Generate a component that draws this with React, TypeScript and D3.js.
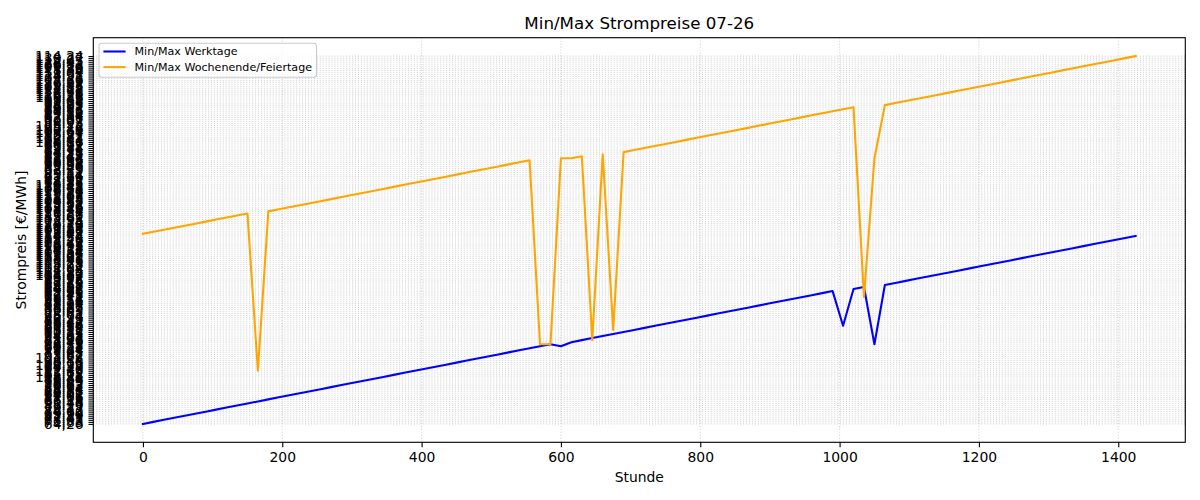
import React, { useEffect, useRef } from "react";
import * as d3 from "d3";

const hours: number[] = [
  0, 15, 30, 45, 60, 75, 90, 105, 120, 135, 150, 165, 180, 195, 210, 225, 240, 255, 270, 285,
  300, 315, 330, 345, 360, 375, 390, 405, 420, 435, 450, 465, 480, 495, 510, 525, 540, 555, 570, 585,
  600, 615, 630, 645, 660, 675, 690, 705, 720, 735, 750, 765, 780, 795, 810, 825, 840, 855, 870, 885,
  900, 915, 930, 945, 960, 975, 990, 1005, 1020, 1035, 1050, 1065, 1080, 1095, 1110, 1125, 1140, 1155, 1170, 1185,
  1200, 1215, 1230, 1245, 1260, 1275, 1290, 1305, 1320, 1335, 1350, 1365, 1380, 1395, 1410, 1425,
];

const werktage: string[] = [
  "64,26", "71,83", "68,05", "77,41", "82,19", "69,94", "74,60", "88,12", "79,37", "85,29",
  "91,48", "66,73", "73,15", "87,66", "94,02", "80,51", "76,88", "83,94", "89,27", "70,63",
  "92,85", "78,09", "86,44", "103,71", "95,18", "81,62", "112,35", "97,40", "84,77", "108,93",
  "90,16", "98,54", "101,28", "93,67", "75,32", "87,05", "79,84", "92,21", "84,58", "96,73",
  "84,58", "72,49", "88,96", "81,07", "94,63", "77,25", "90,81", "85,12", "97,58", "80,34",
  "93,86", "76,47", "89,19", "82,93", "95,74", "78,61", "91,03", "86,39", "98,82", "73,97",
  "88,24", "83,56", "96,18", "79,72", "92,45", "87,91", "99,36", "80,34", "84,05", "94,27",
  "96,73", "89,68", "97,13", "82,76", "93,52", "98,07", "104,39", "111,82", "107,15", "118,64",
  "102,97", "115,28", "109,73", "121,46", "105,61", "113,09", "119,87", "101,54", "124,32", "110,18",
  "116,95", "106,43", "122,71", "108,26", "127,58", "114,24",
];

const wochenende: string[] = [
  "118,42", "125,07", "109,86", "131,53", "120,19", "114,78", "128,34", "103,95", "135,61", "117,23",
  "126,88", "112,35", "121,74", "108,49", "133,16", "115,92", "129,57", "104,83", "123,38", "138,05",
  "111,67", "119,29", "127,94", "106,71", "132,48", "116,13", "94,85", "88,57", "97,92", "91,36",
  "85,84", "99,11", "93,29", "87,43", "95,96", "90,58", "98,69", "86,93", "96,73", "96,73",
  "92,64", "92,64", "89,47", "88,96", "97,25", "85,12", "94,38", "83,71", "99,84", "91,92",
  "86,17", "104,56", "96,41", "102,33", "110,87", "95,27", "107,64", "100,49", "93,78", "105,12",
  "98,23", "90,07", "97,61", "92,98", "87,34", "99,52", "94,16", "89,83", "96,07", "79,72",
  "92,64", "98,95", "93,13", "99,68", "95,49", "119,53", "126,21", "112,96", "134,72", "121,18",
  "108,85", "129,43", "116,37", "137,69", "103,28", "124,91", "113,57", "131,04", "118,76", "127,39",
  "109,14", "136,82", "122,45", "115,63", "130,27", "114,34",
];

const seriesNames = ["Min/Max Werktage", "Min/Max Wochenende/Feiertage"];
const seriesColors = ["#0000ff", "#ffa500"];
const xTicks = [0, 200, 400, 600, 800, 1000, 1200, 1400];
const title = "Min/Max Strompreise 07-26";
const xLabel = "Stunde";
const yLabel = "Strompreis [€/MWh]";

const W = 1200;
const H = 500;
const L = 93.3;
const R = 1185.3;
const T = 37.7;
const B = 442.3;
const FONT = "DejaVu Sans, sans-serif";

export default function App() {
  const ref = useRef<SVGSVGElement | null>(null);

  useEffect(() => {
    document.body.style.margin = "0";
    const svg = d3.select(ref.current);
    svg.selectAll("*").remove();

    // categorical mapping in order of first appearance
    const cats: string[] = [];
    const idx = new Map<string, number>();
    const all = [werktage, wochenende];
    all.forEach((s) =>
      s.forEach((v) => {
        if (!idx.has(v)) {
          idx.set(v, cats.length);
          cats.push(v);
        }
      })
    );
    const n = cats.length;
    const xMin = d3.min(hours)!;
    const xMax = d3.max(hours)!;
    const xPad = (xMax - xMin) * 0.05;
    const yPad = (n - 1) * 0.05;

    const x = d3.scaleLinear().domain([xMin - xPad, xMax + xPad]).range([L, R]);
    const y = d3.scaleLinear().domain([-yPad, n - 1 + yPad]).range([B, T]);

    svg.append("rect").attr("width", W).attr("height", H).attr("fill", "white");

    // grid
    const grid = svg.append("g").attr("stroke", "#b0b0b0").attr("stroke-opacity", 0.5)
      .attr("stroke-width", 1.11).attr("stroke-dasharray", "1.11,1.83");
    grid.selectAll("line.h").data(d3.range(n)).join("line")
      .attr("class", "h")
      .attr("x1", L).attr("x2", R)
      .attr("y1", (d) => y(d)).attr("y2", (d) => y(d));
    grid.selectAll("line.v").data(xTicks).join("line")
      .attr("class", "v")
      .attr("x1", (d) => x(d)).attr("x2", (d) => x(d))
      .attr("y1", T).attr("y2", B);

    // lines
    const line = d3.line<string>()
      .x((_, i) => x(hours[i]))
      .y((d) => y(idx.get(d)!));
    all.forEach((s, k) => {
      svg.append("path").datum(s).attr("d", line)
        .attr("fill", "none").attr("stroke", seriesColors[k])
        .attr("stroke-width", 2.08).attr("stroke-linejoin", "round").attr("stroke-linecap", "square");
    });

    // axes
    const xAxis = d3.axisBottom(x).tickValues(xTicks).tickFormat(d3.format("d"))
      .tickSize(4.86).tickPadding(4.86).tickSizeOuter(0);
    const gx = svg.append("g").attr("transform", `translate(0,${B})`).call(xAxis);
    gx.select(".domain").remove();
    gx.selectAll("line").attr("stroke-width", 1.11).attr("stroke", "black");
    gx.selectAll("text").attr("font-family", FONT).attr("font-size", 13.9).attr("fill", "black");

    const yAxis = d3.axisLeft(y).tickValues(d3.range(n)).tickFormat((d) => cats[d as number])
      .tickSize(4.86).tickPadding(4.86).tickSizeOuter(0);
    const gy = svg.append("g").attr("transform", `translate(${L},0)`).call(yAxis);
    gy.select(".domain").remove();
    gy.selectAll("line").attr("stroke-width", 1.11).attr("stroke", "black");
    gy.selectAll("text").attr("font-family", FONT).attr("font-size", 13.9).attr("fill", "black");

    // spines
    svg.append("rect").attr("x", L).attr("y", T).attr("width", R - L).attr("height", B - T)
      .attr("fill", "none").attr("stroke", "black").attr("stroke-width", 1.11);

    // labels
    svg.append("text").attr("x", (L + R) / 2).attr("y", 29.2).attr("text-anchor", "middle")
      .attr("font-family", FONT).attr("font-size", 16.7).text(title);
    svg.append("text").attr("x", (L + R) / 2).attr("y", 481.5).attr("text-anchor", "middle")
      .attr("font-family", FONT).attr("font-size", 13.9).text(xLabel);
    svg.append("text").attr("transform", `translate(26,${(T + B) / 2}) rotate(-90)`)
      .attr("text-anchor", "middle").attr("font-family", FONT).attr("font-size", 13.9).text(yLabel);

    // legend
    const lg = svg.append("g");
    lg.append("rect").attr("x", 99).attr("y", 43.2).attr("width", 217.5).attr("height", 34)
      .attr("rx", 2.8).attr("fill", "white").attr("fill-opacity", 0.8)
      .attr("stroke", "#cccccc").attr("stroke-width", 1.11);
    seriesNames.forEach((name, k) => {
      const cy = 51.5 + k * 15.6;
      lg.append("line").attr("x1", 103.4).attr("x2", 125.6).attr("y1", cy).attr("y2", cy)
        .attr("stroke", seriesColors[k]).attr("stroke-width", 2.08);
      lg.append("text").attr("x", 134.5).attr("y", cy).attr("dy", "0.36em")
        .attr("font-family", FONT).attr("font-size", 11.1).text(name);
    });
  }, []);

  return <svg ref={ref} width={W} height={H} style={{ display: "block" }} />;
}
